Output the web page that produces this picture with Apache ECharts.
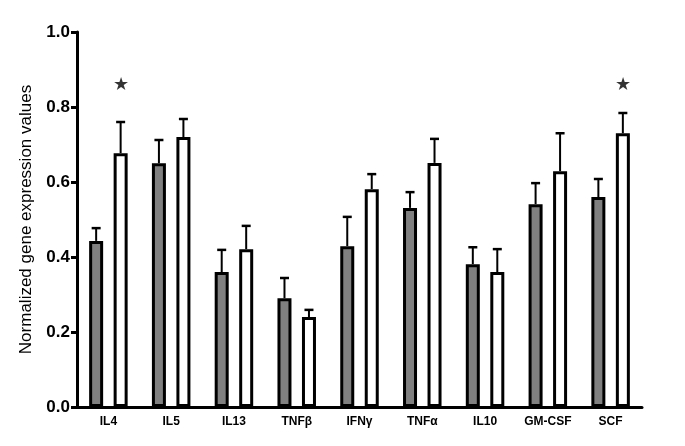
<!DOCTYPE html>
<html><head><meta charset="utf-8">
<script src="https://cdn.jsdelivr.net/npm/echarts@6/dist/echarts.min.js"></script>
<style>html,body{margin:0;padding:0;background:#fff}#c{width:685px;height:446px}</style>
</head><body><div id="c"></div>
<script>
var categories = ['IL4','IL5','IL13','TNFβ','IFNγ','TNFα','IL10','GM-CSF','SCF'];
var grayValues = [0.443,0.65,0.36,0.29,0.429,0.531,0.381,0.541,0.56];
var grayErrTop = [0.477,0.712,0.419,0.344,0.507,0.573,0.426,0.597,0.608];
var whiteValues = [0.677,0.72,0.421,0.24,0.581,0.651,0.36,0.629,0.73];
var whiteErrTop = [0.76,0.768,0.483,0.259,0.621,0.715,0.421,0.73,0.784];
var starY = [0.859,null,null,null,null,null,null,null,0.859];
var yTicks = [0,0.2,0.4,0.6,0.8,1.0];

var OFF = 0.195; // fraction of category width from center to bar center

function errSeries(tops, vals, sign){
  return {
    type:'custom', z:5,
    data: vals.map(function(v,i){return [i, v, tops[i]];}),
    renderItem:function(params, api){
      var i = api.value(0);
      var bw = api.size([1,0])[0];
      var p0 = api.coord([i, api.value(1)]);
      var p1 = api.coord([i, api.value(2)]);
      var x = p0[0] + sign*bw*OFF;
      return {type:'group', children:[
        {type:'line', shape:{x1:x,y1:p0[1],x2:x,y2:p1[1]}, style:{stroke:'#000',lineWidth:2}},
        {type:'line', shape:{x1:x-4.5,y1:p1[1],x2:x+4.5,y2:p1[1]}, style:{stroke:'#000',lineWidth:2.5}}
      ]};
    }
  };
}

var chart = echarts.init(document.getElementById('c'));
chart.setOption({
  animation:false,
  grid:{left:77,right:43,top:32,bottom:39},
  xAxis:{
    type:'category', data:categories,
    axisLine:{lineStyle:{color:'#000',width:3}},
    axisTick:{alignWithLabel:true,length:6,lineStyle:{color:'#000',width:3}},
    axisLabel:{interval:0,color:'#000',fontWeight:'bold',fontSize:12,fontFamily:'Liberation Sans, Arial',margin:9}
  },
  yAxis:{
    type:'value', min:yTicks[0], max:yTicks[yTicks.length-1], interval:0.2,
    name:'Normalized gene expression values', nameLocation:'middle', nameGap:42,
    nameTextStyle:{color:'#000',fontSize:17,fontFamily:'Liberation Sans, Arial'},
    splitLine:{show:false},
    axisLine:{show:true,lineStyle:{color:'#000',width:3}},
    axisTick:{show:true,length:6,lineStyle:{color:'#000',width:3}},
    axisLabel:{color:'#000',fontWeight:'bold',fontSize:17,fontFamily:'Liberation Sans, Arial',margin:7,
      formatter:function(v){return v.toFixed(1);}}
  },
  series:[
    {type:'bar', data:grayValues, barWidth:14, barGap:'75%',
     itemStyle:{color:'#808080',borderColor:'#000',borderWidth:3}},
    {type:'bar', data:whiteValues, barWidth:14,
     itemStyle:{color:'#fff',borderColor:'#000',borderWidth:3}},
    errSeries(grayErrTop, grayValues, -1),
    errSeries(whiteErrTop, whiteValues, 1),
    {type:'scatter', data:starY, symbolSize:0, z:6,
     label:{show:true,position:'inside',formatter:'★',fontSize:18,color:'#000',offset:[12.2,0]}}
  ]
});
</script></body></html>
